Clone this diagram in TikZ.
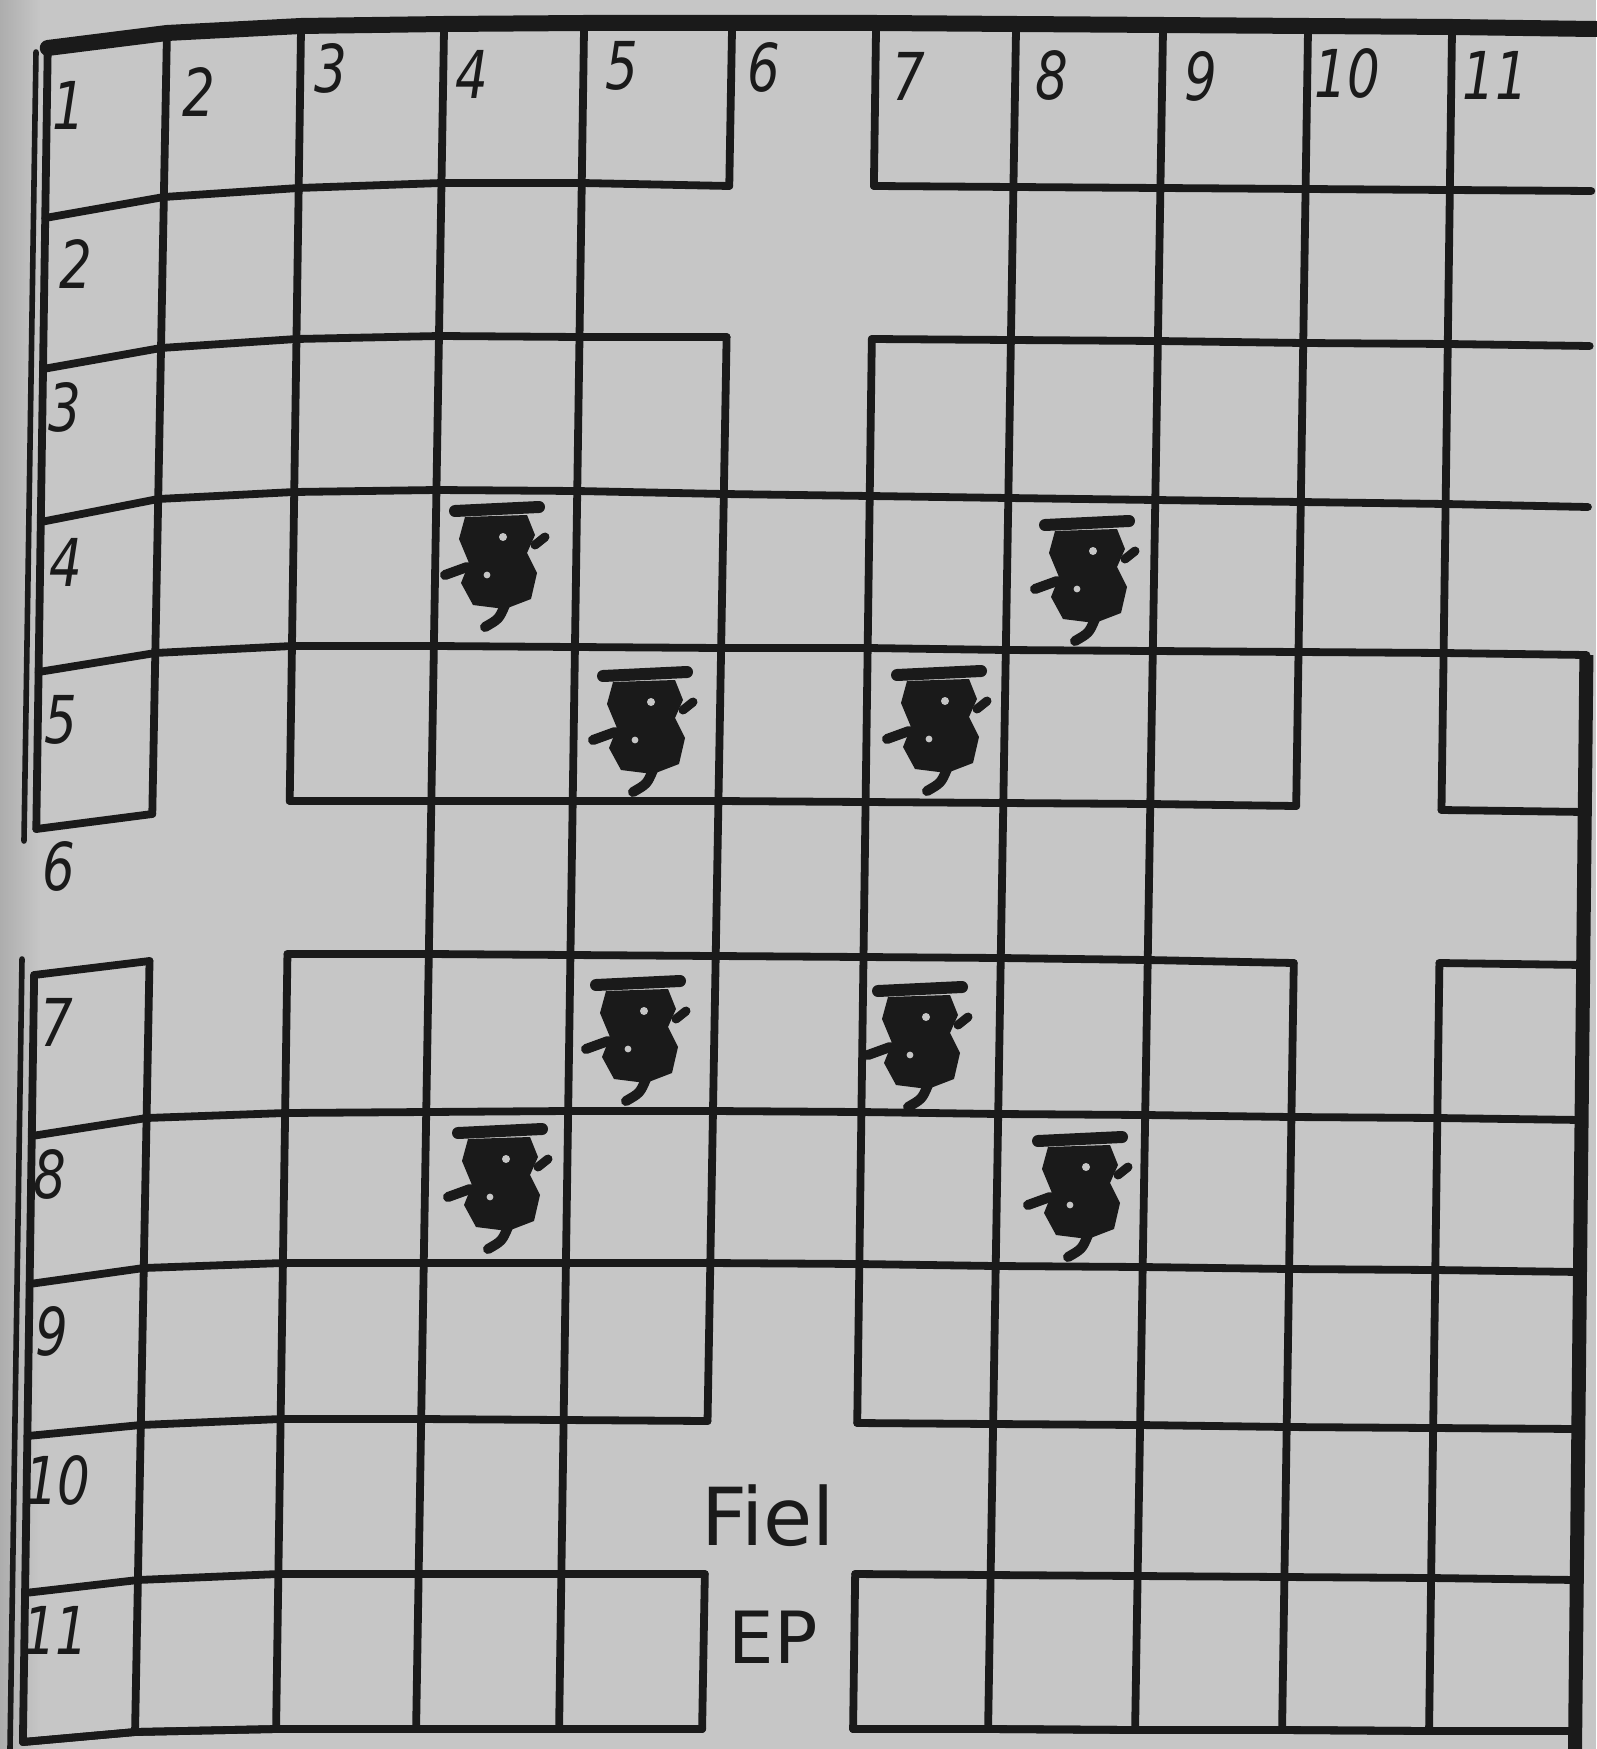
\documentclass[tikz,border=0pt]{standalone}
\usepackage{fontspec}
\newfontfamily\handfont{DejaVu Sans}[FakeStretch=0.78]
\newfontfamily\wordfont{DejaVu Sans}
\definecolor{paper}{HTML}{C6C6C6}
\definecolor{paperdark}{HTML}{ADADAD}
\definecolor{ink}{HTML}{1A1A1A}
\newcommand\HRun[3]{\draw[wall] (p-#2-#1) \foreach \k in {#2,...,#3}{ -- (p-\k-#1)};}
\newcommand\VRun[3]{\draw[wall] (p-#1-#2) \foreach \k in {#2,...,#3}{ -- (p-#1-\k)};}
\def\XT{{48,167,301,444,584,732,876,1016,1163,1308,1452,1593}}
\def\XB{{23,135,276,416,559,702,853,988,1135,1282,1429,1575}}
\def\HY{{48,33,26,24,23,23,23,24,25,26,27,29,
218,197,188,183,183,186,186,187,188,189,190,191,
369,348,339,336,337,337,339,340,341,343,344,346,
522,499,492,490,491,494,496,498,500,502,504,507,
672,653,646,646,647,648,648,650,651,652,653,655,
829,814,801,801,801,801,802,803,804,806,810,812,
975,961,954,954,955,956,957,958,960,963,963,965,
1136,1118,1113,1112,1111,1111,1112,1114,1115,1117,1118,1120,
1284,1268,1263,1263,1263,1263,1264,1266,1267,1269,1270,1272,
1436,1425,1419,1419,1420,1421,1423,1424,1425,1427,1428,1429,
1593,1580,1574,1574,1574,1574,1574,1575,1576,1577,1578,1580,
1742,1732,1729,1729,1729,1729,1729,1729,1730,1730,1731,1731}}
\begin{document}
\begin{tikzpicture}[x=0.5pt,y=-0.5pt,
  wall/.style={draw=ink, line width=3.9pt, line cap=round, line join=round},
  topwall/.style={draw=ink, line width=8pt, line cap=round, line join=round},
  sidewall/.style={draw=ink, line width=7pt, line cap=butt},
  thinwall/.style={draw=ink, line width=2.8pt, line cap=round},
  lbl/.style={inner sep=0pt, text=ink, font=\handfont\itshape\fontsize{33}{33}\selectfont},
  word/.style={inner sep=0pt, text=ink, font=\wordfont\fontsize{40}{40}\selectfont},
  piece/.pic={
    \fill[ink] (-32,-42) -- (30,-44) -- (38,-24) -- (30,-6) -- (40,14) -- (34,40)
      -- (8,50) -- (-24,46) -- (-36,24) -- (-28,4) -- (-38,-20) -- cycle;
    \draw[ink, line width=6pt, line cap=round] (-42,-48) -- (42,-52);
    \draw[ink, line width=5pt, line cap=round] (-52,16) -- (-30,8);
    \draw[ink, line width=4.5pt, line cap=round] (38,-14) -- (48,-22);
    \draw[ink, line width=5pt, line cap=round] (8,46) .. controls (2,60) .. (-12,68);
    \fill[paper] (6,-22) circle (2pt);
    \fill[paper] (-10,16) circle (1.7pt);
  }]
\useasboundingbox (0,0) rectangle (1596,1749);
\fill[paper] (0,0) rectangle (1596,1749);
\shade[left color=paperdark, right color=paper] (0,0) rectangle (40,1749);

% grid points
\foreach \j in {0,...,11}{
  \foreach \i in {0,...,11}{
    \pgfmathtruncatemacro\kk{\j*12+\i}
    \pgfmathsetmacro\yy{\HY[\kk]}
    \pgfmathsetmacro\tt{(\yy-30)/1705}
    \pgfmathsetmacro\xx{\XT[\i]+(\XB[\i]-\XT[\i])*\tt}
    \coordinate (p-\i-\j) at (\xx,\yy);
  }
}

% horizontal walls
\HRun{1}{0}{5} \HRun{1}{6}{11}
\HRun{2}{0}{5} \HRun{2}{6}{11}
\HRun{3}{0}{11}
\HRun{4}{0}{11}
\HRun{5}{0}{1} \HRun{5}{2}{9} \HRun{5}{10}{11}
\HRun{6}{0}{1} \HRun{6}{2}{9} \HRun{6}{10}{11}
\HRun{7}{0}{11}
\HRun{8}{0}{11}
\HRun{9}{0}{5} \HRun{9}{6}{11}
\HRun{10}{0}{5} \HRun{10}{6}{11}
\HRun{11}{0}{5} \HRun{11}{6}{11}
\begin{scope}[yshift=-6pt]
\HRun{11}{0}{5} \HRun{11}{6}{11}
\end{scope}

% vertical walls
\VRun{0}{0}{5} \VRun{0}{6}{11}
\VRun{1}{0}{5} \VRun{1}{6}{11}
\VRun{2}{0}{5} \VRun{2}{6}{11}
\VRun{3}{0}{11}
\VRun{4}{0}{11}
\VRun{5}{0}{1} \VRun{5}{2}{9} \VRun{5}{10}{11}
\VRun{6}{0}{1} \VRun{6}{2}{9} \VRun{6}{10}{11}
\VRun{7}{0}{11}
\VRun{8}{0}{11}
\VRun{9}{0}{5} \VRun{9}{6}{11}
\VRun{10}{0}{5} \VRun{10}{6}{11}

% borders
\draw[topwall] (p-0-0) \foreach \k in {1,...,11}{ -- (p-\k-0)} -- (1596,29);
\draw[sidewall] (p-11-4) -- (1575,1749);
\draw[thinwall] (36,52) -- (24,841);
\draw[thinwall] (22,959) -- (10,1749);

% column labels
\node[lbl] (c1) at (69,105) {1};
\node[lbl] (c2) at (199,92) {2};
\node[lbl] (c3) at (331,68) {3};
\node[lbl] (c4) at (472,74) {4};
\node[lbl] (c5) at (622,66) {5};
\node[lbl] (c6) at (764,67) {6};
\node[lbl] (c7) at (909,76) {7};
\node[lbl] (c8) at (1052,75) {8};
\node[lbl] (c9) at (1201,76) {9};
\node[lbl] (c10) at (1347,73) {10};
\node[lbl] (c11) at (1495,75) {11};
% row labels
\node[lbl] (r2) at (76,264) {2};
\node[lbl] (r3) at (65,407) {3};
\node[lbl] (r4) at (66,562) {4};
\node[lbl] (r5) at (61,720) {5};
\node[lbl] (r6) at (59,866) {6};
\node[lbl] (r7) at (57,1022) {7};
\node[lbl] (r8) at (50,1174) {8};
\node[lbl] (r9) at (52,1331) {9};
\node[lbl] (r10) at (58,1480) {10};
\node[lbl] (r11) at (56,1630) {11};

% words
\node[word] (fiel) at (768,1516) {Fiel};
\node[word, font=\wordfont\fontsize{36}{36}\selectfont] (ep) at (773,1637) {EP};

% pieces
\pic (pa) at (497,559) {piece};
\pic (pb) at (1087,573) {piece};
\pic (pc) at (645,724) {piece};
\pic (pd) at (939,723) {piece};
\pic (pe) at (638,1033) {piece};
\pic (pf) at (920,1039) {piece};
\pic (pg) at (500,1181) {piece};
\pic (ph) at (1080,1189) {piece};
\end{tikzpicture}
\end{document}
